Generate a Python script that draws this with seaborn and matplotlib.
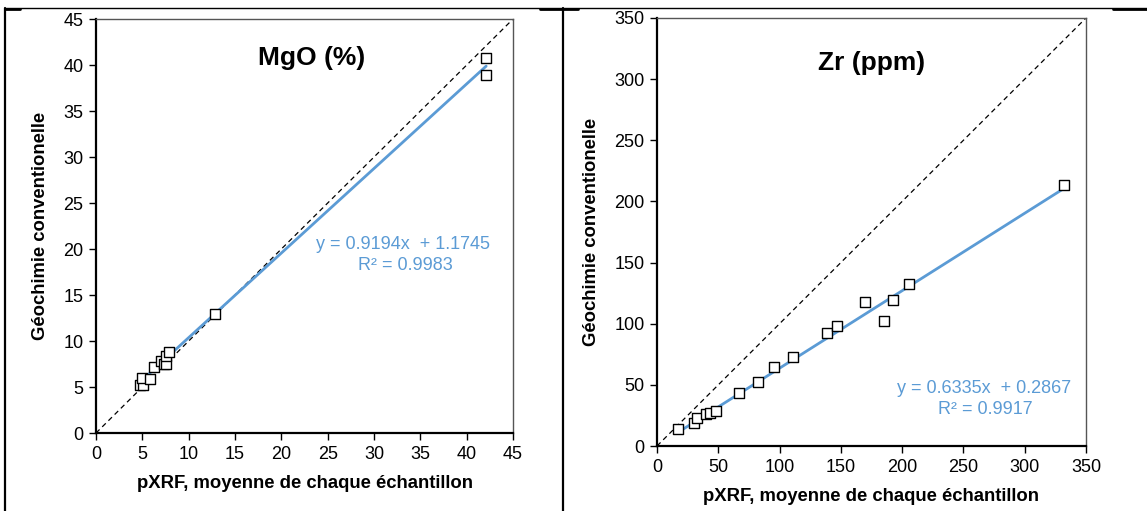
import numpy as np
import pandas as pd
import matplotlib
matplotlib.use("Agg")
import matplotlib.pyplot as plt
import seaborn as sns
from matplotlib.lines import Line2D

# =============================
# DATA
# =============================
mgo_pxrf = [4.7, 5.1, 5.0, 5.8, 6.3, 7.0, 7.3, 7.6, 7.5, 7.9, 12.8, 42.1, 42.1]
mgo_conv = [5.2, 5.2, 6.0, 5.9, 7.2, 7.8, 7.5, 7.5, 8.4, 8.8, 12.9, 40.8, 38.9]
mgo_fit = (0.9194, 1.1745, 0.9983)

zr_pxrf = [17.4, 30.4, 32.9, 40.0, 43.0, 48.1, 67.2, 82.7, 95.7, 111.2,
           139.0, 147.1, 169.7, 185.2, 192.3, 205.3, 332.0]
zr_conv = [13.7, 19.1, 22.6, 26.2, 26.8, 28.9, 43.1, 52.6, 64.3, 72.5,
           92.1, 98.1, 118.0, 102.5, 119.4, 132.5, 213.4]
zr_fit = (0.6335, 0.2867, 0.9917)

BLUE = "#5b9bd5"

sns.set_style("ticks")
plt.rcParams['font.family'] = ['Liberation Sans', 'DejaVu Sans']
plt.rcParams.update({"text.color": "black", "axes.labelcolor": "black",
                     "xtick.color": "black", "ytick.color": "black"})


def draw_panel(ax, xs, ys, fit, lim, step, title, title_pos, eq_pos):
    df = pd.DataFrame({"x": xs, "y": ys})
    slope, icpt, r2 = fit

    # 1:1 line
    ax.plot([0, lim], [0, lim], color="black", lw=0.9, ls=(0, (4, 3)), zorder=1)

    # trend line over data range
    xr = np.array([min(xs), max(xs)])
    fit_df = pd.DataFrame({"x": xr, "y": slope * xr + icpt})
    sns.lineplot(data=fit_df, x="x", y="y", ax=ax, color=BLUE, lw=2, zorder=2)

    sns.scatterplot(data=df, x="x", y="y", ax=ax, marker="s", s=55,
                    facecolor="white", edgecolor="black", linewidth=1.0,
                    zorder=3)

    ax.set_xlim(0, lim)
    ax.set_ylim(0, lim)
    ax.set_xticks(np.arange(0, lim + 1, step))
    ax.set_yticks(np.arange(0, lim + 1, step))
    ax.tick_params(labelsize=13, length=5, width=1, direction="out", pad=4)

    for s in ["left", "bottom"]:
        ax.spines[s].set_linewidth(1.6)
        ax.spines[s].set_color("black")
    for s in ["top", "right"]:
        ax.spines[s].set_linewidth(1.0)
        ax.spines[s].set_color("#555555")

    ax.set_xlabel("pXRF, moyenne de chaque échantillon", fontsize=13.3,
                  fontweight="bold", labelpad=9)
    ax.set_ylabel("Géochimie conventionelle", fontsize=13.3,
                  fontweight="bold", labelpad=10)

    ax.text(title_pos[0], title_pos[1], title, transform=ax.transAxes,
            fontsize=19, fontweight="bold", ha="center", va="center")
    ax.text(eq_pos[0], eq_pos[1], f"y = {slope:.4f}x  + {icpt:.4f}",
            transform=ax.transAxes, fontsize=13, color=BLUE,
            ha="right", va="center")
    ax.text(eq_pos[0] - 0.09, eq_pos[1] - 0.05, f"R² = {r2:.4f}",
            transform=ax.transAxes, fontsize=13, color=BLUE,
            ha="right", va="center")


fig = plt.figure(figsize=(11.47, 5.11), dpi=100)
ax1 = fig.add_axes([0.0837, 0.1526, 0.3636, 0.8102])
ax2 = fig.add_axes([0.5728, 0.1272, 0.3740, 0.8376])

draw_panel(ax1, mgo_pxrf, mgo_conv, mgo_fit, 45, 5, "MgO (%)",
           (0.517, 0.905), (0.945, 0.455))
draw_panel(ax2, zr_pxrf, zr_conv, zr_fit, 350, 50, "Zr (ppm)",
           (0.50, 0.895), (0.965, 0.135))

# table frame around the two charts
W, H = 1147, 511
def fline(x0, y0, x1, y1, lw):
    fig.add_artist(Line2D([x0 / W, x1 / W], [1 - y0 / H, 1 - y1 / H],
                          color="black", lw=lw, transform=fig.transFigure))

fline(5, 8, 1147, 8, 1.0)
fline(5, 8, 5, 511, 1.6)
fline(563, 8, 563, 511, 1.6)
fline(5, 9, 20, 9, 2.0)
fline(540, 9, 578, 9, 2.0)
fline(1113, 9, 1147, 9, 2.0)

plt.savefig("out.png", dpi=100)
plt.close()
